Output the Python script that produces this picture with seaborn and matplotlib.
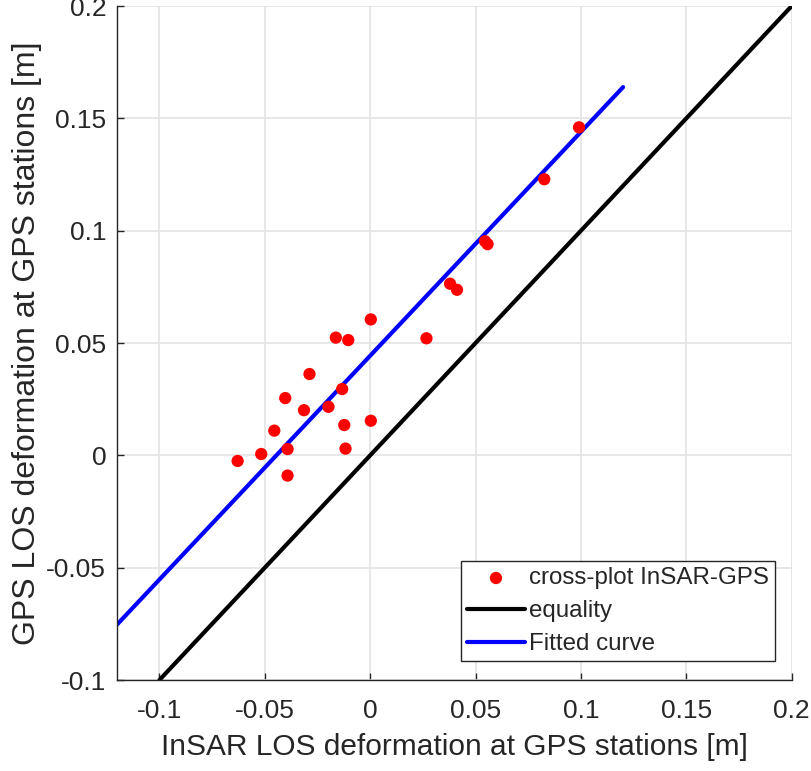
import matplotlib
matplotlib.use("Agg")
import matplotlib.pyplot as plt
import seaborn as sns
import pandas as pd
import numpy as np

# Data
insar_los = [-0.0629, -0.0517, -0.0455, -0.0403, -0.0392, -0.0392, -0.0314, -0.0288,
             -0.0198, -0.0163, -0.0133, -0.0123, -0.0117, -0.0104, 0.0003, 0.0003,
             0.0267, 0.0379, 0.0412, 0.0545, 0.0557, 0.0826, 0.0991]
gps_los = [-0.0025, 0.0006, 0.0110, 0.0255, 0.0028, -0.0090, 0.0201, 0.0362,
           0.0216, 0.0524, 0.0295, 0.0135, 0.0030, 0.0513, 0.0605, 0.0154,
           0.0521, 0.0764, 0.0737, 0.0953, 0.0940, 0.1229, 0.1460]
equality_x = [-0.1, 0.2]
equality_y = [-0.1, 0.2]
fit_x = [-0.12, 0.12]
fit_y = [-0.0752, 0.1639]

xticks = [-0.1, -0.05, 0, 0.05, 0.1, 0.15, 0.2]
xticklabels = ["-0.1", "-0.05", "0", "0.05", "0.1", "0.15", "0.2"]
yticks = [-0.1, -0.05, 0, 0.05, 0.1, 0.15, 0.2]
yticklabels = ["-0.1", "-0.05", "0", "0.05", "0.1", "0.15", "0.2"]

sns.set_theme(style="white")
plt.rcParams["font.family"] = ["Liberation Sans", "DejaVu Sans"]

fig = plt.figure(figsize=(8.11, 7.71), dpi=100)
ax = fig.add_axes([0.1446, 0.1180, 0.9762 - 0.1446, 0.9922 - 0.1180])

pts = pd.DataFrame({"x": insar_los, "y": gps_los})
eq = pd.DataFrame({"x": equality_x, "y": equality_y})
fit = pd.DataFrame({"x": fit_x, "y": fit_y})

sns.scatterplot(data=pts, x="x", y="y", ax=ax, color="#ff0000", s=78,
                edgecolor="none", label="cross-plot InSAR-GPS", zorder=3)
sns.lineplot(data=eq, x="x", y="y", ax=ax, color="black", linewidth=3,
             label="equality", zorder=2, solid_capstyle="round")
sns.lineplot(data=fit, x="x", y="y", ax=ax, color="#0000ff", linewidth=3,
             label="Fitted curve", zorder=2, solid_capstyle="round")

ax.set_xlim(-0.12, 0.2)
ax.set_ylim(-0.1, 0.2)
ax.set_xticks(xticks)
ax.set_xticklabels(xticklabels)
ax.set_yticks(yticks)
ax.set_yticklabels(yticklabels)

ax.grid(True, color="#e3e3e3", linewidth=1.2)
ax.set_axisbelow(True)
for s in ["top", "right"]:
    ax.spines[s].set_visible(False)
for s in ["left", "bottom"]:
    ax.spines[s].set_color("#262626")
    ax.spines[s].set_linewidth(1.0)

ax.tick_params(axis="both", direction="in", length=5, width=1, color="#262626",
               labelsize=19, labelcolor="#262626", bottom=True, left=True)
ax.tick_params(axis="x", pad=14)
ax.tick_params(axis="y", pad=8)

ax.set_xlabel("InSAR LOS deformation at GPS stations [m]", fontsize=21.5, color="#262626", labelpad=7)
ax.set_ylabel("GPS LOS deformation at GPS stations [m]", fontsize=23, color="#262626", labelpad=3)

leg = ax.legend(loc="lower right", bbox_to_anchor=(0.9747, 0.028), fontsize=17.4,
                frameon=True, fancybox=False, edgecolor="#262626", framealpha=1,
                handlelength=2.4, handletextpad=0.15, borderpad=0.25,
                labelspacing=0.45, borderaxespad=0.0)
leg.get_frame().set_linewidth(1.0)
for t in leg.get_texts():
    t.set_color("#262626")

fig.savefig("out.png", dpi=100)
